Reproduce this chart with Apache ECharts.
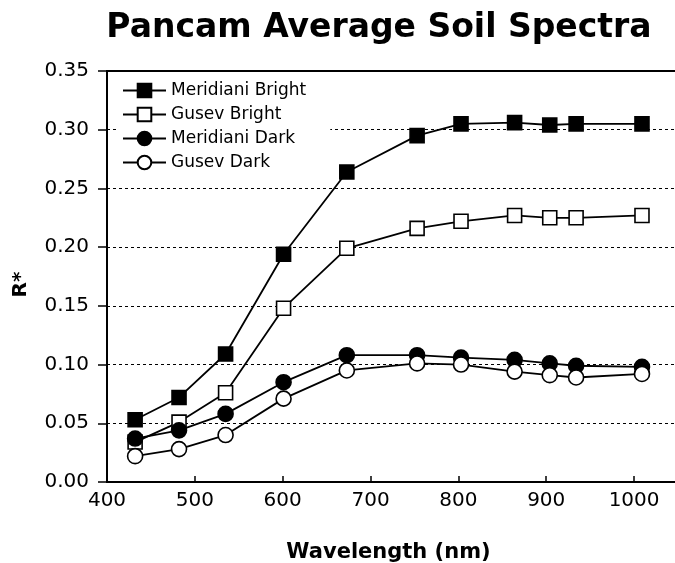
<!DOCTYPE html>
<html>
<head>
<meta charset="utf-8">
<script src="https://cdn.jsdelivr.net/npm/echarts@6/dist/echarts.min.js"></script>
<style>html,body{margin:0;padding:0;background:#fff;}#c{width:675px;height:563px;}</style>
</head>
<body>
<div id="c"></div>
<script>
const wavelengths = [432, 482, 535, 601, 673, 753, 803, 864, 904, 934, 1009];
const meridianiBright = [0.053, 0.072, 0.109, 0.194, 0.264, 0.295, 0.305, 0.306, 0.304, 0.305, 0.305];
const gusevBright = [0.034, 0.051, 0.076, 0.148, 0.199, 0.216, 0.222, 0.227, 0.225, 0.225, 0.227];
const meridianiDark = [0.037, 0.044, 0.058, 0.085, 0.108, 0.108, 0.106, 0.104, 0.101, 0.099, 0.098];
const gusevDark = [0.022, 0.028, 0.040, 0.071, 0.095, 0.101, 0.100, 0.094, 0.091, 0.089, 0.092];
const yTicks = ['0.00','0.05','0.10','0.15','0.20','0.25','0.30','0.35'];

const F = 'DejaVu Sans, Verdana, sans-serif';
function pts(arr){ return wavelengths.map((w,i)=>[w,arr[i]]); }
function mk(name, data, symbol, filled){
  return {
    name, type:'line', data: pts(data), symbol, symbolSize: symbol==='circle'?15:14,
    showSymbol:true,
    lineStyle:{color:'#000', width:1.8},
    itemStyle:{color: filled?'#000':'#fff', borderColor:'#000', borderWidth:1.6},
    emphasis:{disabled:true}, animation:false, z: 3
  };
}
const chart = echarts.init(document.getElementById('c'));
chart.setOption({
  backgroundColor:'#fff',
  animation:false,
  title:{text:'Pancam Average Soil Spectra', left:374, top:7, textAlign:'center',
    textStyle:{fontFamily:F, fontWeight:'bold', fontSize:33, color:'#000'}},
  grid:{left:107, top:71, right:-3, bottom:81, outerBoundsMode:'none', containLabel:false,
    show:true, borderColor:'#000', borderWidth:2, backgroundColor:'transparent'},
  legend:{
    orient:'vertical', left:118, top:78, itemGap:7, itemWidth:43, itemHeight:17,
    backgroundColor:'#fff', padding:[4,24,4,4],
    textStyle:{fontFamily:F, fontSize:17, color:'#000'},
    data:['Meridiani Bright','Gusev Bright','Meridiani Dark','Gusev Dark']
  },
  xAxis:{
    type:'value', min:400, max:1050, interval:100,
    name:'Wavelength (nm)', nameLocation:'middle', nameGap:60,
    nameTextStyle:{fontFamily:F, fontWeight:'bold', fontSize:21, color:'#000', padding:[0,8,0,0]},
    axisLine:{show:true, lineStyle:{color:'#000', width:2}},
    axisTick:{show:true, inside:true, length:6, lineStyle:{color:'#000', width:1.5}},
    axisLabel:{fontFamily:F, fontSize:20, color:'#000', margin:9, showMaxLabel:false,
      formatter:(v)=>String(v)},
    splitLine:{show:false}
  },
  yAxis:{
    type:'value', min:0, max:0.35, interval:0.05,
    name:'R*', nameLocation:'middle', nameGap:76, nameRotate:90,
    nameTextStyle:{fontFamily:F, fontWeight:'bold', fontSize:20, color:'#000', padding:[0,0,0,-16]},
    axisLine:{show:true, lineStyle:{color:'#000', width:2}},
    axisTick:{show:true, inside:false, length:9, lineStyle:{color:'#000', width:1.5}},
    axisLabel:{fontFamily:F, fontSize:20, color:'#000', margin:18,
      formatter:(v)=>yTicks[Math.round(v/0.05)]},
    splitLine:{show:true, lineStyle:{color:'#000', width:1, type:[3,3]},
      showMinLine:false, showMaxLine:false}
  },
  series:[
    mk('Meridiani Bright', meridianiBright, 'rect', true),
    mk('Gusev Bright', gusevBright, 'rect', false),
    mk('Meridiani Dark', meridianiDark, 'circle', true),
    mk('Gusev Dark', gusevDark, 'circle', false)
  ]
});
</script>
</body>
</html>
